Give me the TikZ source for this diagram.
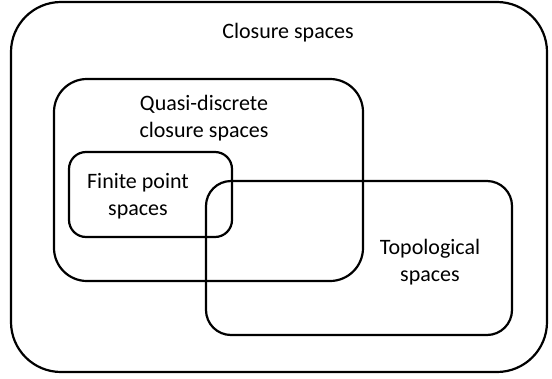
\documentclass[tikz,border=0pt]{standalone}
\usepackage{fontspec}
\setmainfont{Carlito}
\begin{document}
\begin{tikzpicture}[x=1pt,y=-1pt,
  setbox/.style={draw=black,line width=2.2pt,rectangle,inner sep=0pt,outer sep=0pt},
  lbl/.style={font=\fontsize{22}{27}\selectfont,align=center,inner sep=0pt}]
\useasboundingbox (0,0) rectangle (552,378);
\node[setbox,rounded corners=50pt,minimum width=536pt,minimum height=370pt] (closure) at (279,187) {};
\node[setbox,rounded corners=33pt,minimum width=309pt,minimum height=202pt] (quasi) at (208.5,180) {};
\node[setbox,rounded corners=17pt,minimum width=163pt,minimum height=85pt] (finite) at (150.5,194.5) {};
\node[setbox,rounded corners=25pt,minimum width=306pt,minimum height=154pt] (topo) at (359,258) {};
\node[lbl] (tclosure) at (288,33) {Closure spaces};
\node[lbl] (tquasi) at (204,118) {Quasi-discrete\\closure spaces};
\node[lbl] (tfinite) at (138,196) {Finite point\\spaces};
\node[lbl] (ttopo) at (430,262) {Topological\\spaces};
\end{tikzpicture}
\end{document}
